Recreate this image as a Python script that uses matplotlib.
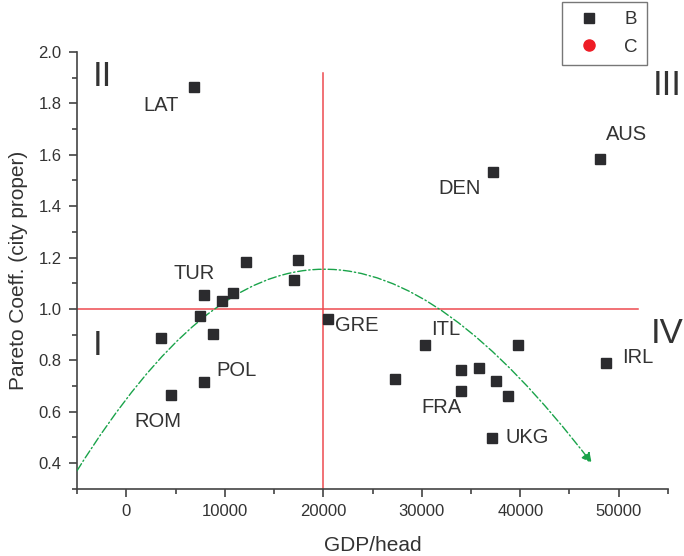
import matplotlib
matplotlib.use('Agg')
import matplotlib.pyplot as plt
from matplotlib.path import Path
from matplotlib.patches import FancyArrowPatch
from matplotlib.ticker import MultipleLocator

plt.rcParams.update({
    'font.family': 'Liberation Sans',
    'text.color': '#333333',
    'axes.labelcolor': '#333333',
    'xtick.color': '#333333',
    'ytick.color': '#333333',
})

# Datos: PIB per cápita vs coeficiente de Pareto
gdp = [6850, 12150, 17440, 17040, 7875, 9710, 10830, 7470, 8790, 3495,
       7940, 4515, 20470, 30310, 27320, 33940, 35810, 37580, 34010, 38730,
       39820, 37140, 48710, 37240, 48130]
pareto = [1.865, 1.181, 1.191, 1.111, 1.053, 1.029, 1.061, 0.974, 0.901, 0.886,
          0.714, 0.663, 0.960, 0.859, 0.729, 0.762, 0.770, 0.721, 0.680, 0.660,
          0.859, 0.499, 0.790, 1.531, 1.582]

# Etiquetas de países (texto, x, y)
country_names = ['LAT', 'TUR', 'POL', 'ROM', 'GRE', 'ITL', 'FRA', 'UKG', 'IRL', 'DEN', 'AUS']
country_x = [3560, 6850, 11220, 3160, 23450, 32480, 32030, 40710, 51970, 33880, 50780]
country_y = [1.791, 1.139, 0.762, 0.560, 0.935, 0.918, 0.616, 0.498, 0.811, 1.468, 1.677]

# Cuadrantes
quad_names = ['I', 'II', 'III', 'IV']
quad_x = [-2900, -2390, 54900, 54900]
quad_y = [0.859, 1.906, 1.871, 0.904]

# Curva de tendencia (bezier cúbica: inicio, controles, fin)
trend_pts = [(-5000, 0.37), (12000, 1.41), (27000, 1.41), (47250, 0.40)]

fig = plt.figure(figsize=(6.84, 5.56), dpi=100)
ax = fig.add_axes([0.1126, 0.121, 0.864, 0.7855])

ax.plot(gdp, pareto, 's', color='#2b2b2e', markersize=6.8, zorder=4, label='B')
ax.plot([], [], 'o', color='#ee1c25', markersize=8, label='C')

# Líneas de referencia
ax.plot([20000, 20000], [0.3, 1.92], color='#ee4a50', lw=1.1, zorder=2)
ax.plot([-5000, 52000], [1.0, 1.0], color='#ee4a50', lw=1.1, zorder=2)

path = Path(trend_pts, [Path.MOVETO, Path.CURVE4, Path.CURVE4, Path.CURVE4])
arrow = FancyArrowPatch(path=path, arrowstyle='-|>,head_length=6,head_width=3',
                        color='#1aa34a', lw=1.0, linestyle=(0, (6, 2, 1, 2)),
                        zorder=3)
ax.add_patch(arrow)

for name, x, y in zip(country_names, country_x, country_y):
    ax.text(x, y, name, fontsize=14.5, ha='center', va='center')
for name, x, y in zip(quad_names, quad_x, quad_y):
    ax.text(x, y, name, fontsize=25, ha='center', va='center', clip_on=False)

ax.set_xlim(-5000, 55000)
ax.set_ylim(0.3, 2.0)
ax.xaxis.set_minor_locator(MultipleLocator(5000))
ax.yaxis.set_minor_locator(MultipleLocator(0.1))
ax.set_xticks([0, 10000, 20000, 30000, 40000, 50000])
ax.set_yticks([0.4, 0.6, 0.8, 1.0, 1.2, 1.4, 1.6, 1.8, 2.0])
ax.tick_params(which='major', direction='out', length=6, width=1.1, labelsize=12, pad=5)
ax.tick_params(which='minor', direction='out', length=3.5, width=1.1)

for s in ['top', 'right']:
    ax.spines[s].set_visible(False)
for s in ['left', 'bottom']:
    ax.spines[s].set_color('#444444')
    ax.spines[s].set_linewidth(1.2)

ax.set_xlabel('GDP/head', fontsize=15, labelpad=12)
ax.set_ylabel('Pareto Coeff. (city proper)', fontsize=15, labelpad=8)

leg = fig.legend(loc='upper left', bbox_to_anchor=(562 / 684, 1 - 2 / 556),
                 fontsize=13.5, frameon=True, fancybox=False, handlelength=1.88,
                 handletextpad=0.95, borderpad=0.5, labelspacing=0.55,
                 borderaxespad=0)
leg.get_frame().set_edgecolor('#555555')
leg.get_frame().set_linewidth(1.0)

fig.savefig('out.png', dpi=100)
